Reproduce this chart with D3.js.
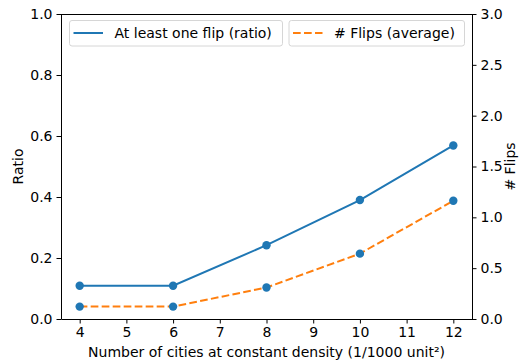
<!DOCTYPE html>
<html><head><meta charset="utf-8">
<script src="https://cdn.jsdelivr.net/npm/d3@7"></script>
<style>
body{margin:0;background:#fff;}
text{font-family:"DejaVu Sans",sans-serif;}
</style></head>
<body><svg id="c" width="519" height="363"></svg>
<script>
const cities = [4, 6, 8, 10, 12];
const ratioAtLeastOne = [0.109, 0.109, 0.242, 0.390, 0.569];
const flipsAverage = [0.122, 0.122, 0.310, 0.643, 1.163];
const xTicks = [4, 5, 6, 7, 8, 9, 10, 11, 12];
const leftTicks = [0.0, 0.2, 0.4, 0.6, 0.8, 1.0];
const rightTicks = [0.0, 0.5, 1.0, 1.5, 2.0, 2.5, 3.0];
const labels = {x: "Number of cities at constant density (1/1000 unit²)", yl: "Ratio", yr: "# Flips",
  s1: "At least one flip (ratio)", s2: "# Flips (average)"};

const blue = "#1f77b4", orange = "#ff7f0e";
const L = 61, R = 472, T = 14, B = 319;
const fs = 14;
const svg = d3.select("#c");
const x = d3.scaleLinear().domain([3.6, 12.4]).range([L, R]);
const yl = d3.scaleLinear().domain([0, 1]).range([B, T]);
const yr = d3.scaleLinear().domain([0, 3]).range([B, T]);

function styleAxis(g){
  g.selectAll("path").attr("stroke", "#000").attr("stroke-width", 1);
  g.selectAll("line").attr("stroke", "#000").attr("stroke-width", 1);
  g.selectAll("text").attr("font-size", fs).attr("fill", "#000").attr("font-family", "DejaVu Sans");
}
const gx = svg.append("g").attr("transform", `translate(0,${B})`)
  .call(d3.axisBottom(x).tickValues(xTicks).tickFormat(d3.format("d")).tickSize(4.5).tickPadding(4).tickSizeOuter(0));
styleAxis(gx);
const gl = svg.append("g").attr("transform", `translate(${L},0)`)
  .call(d3.axisLeft(yl).tickValues(leftTicks).tickFormat(d3.format(".1f")).tickSize(4.5).tickPadding(4).tickSizeOuter(0));
styleAxis(gl);
const gr = svg.append("g").attr("transform", `translate(${R},0)`)
  .call(d3.axisRight(yr).tickValues(rightTicks).tickFormat(d3.format(".1f")).tickSize(4.5).tickPadding(4).tickSizeOuter(0));
styleAxis(gr);
svg.append("line").attr("x1", L).attr("x2", R).attr("y1", T+0.5).attr("y2", T+0.5).attr("stroke", "#000");

const line1 = d3.line().x((d,i)=>x(cities[i])).y(d=>yl(d));
const line2 = d3.line().x((d,i)=>x(cities[i])).y(d=>yr(d));
svg.append("path").attr("d", line1(ratioAtLeastOne)).attr("fill","none").attr("stroke",blue).attr("stroke-width",2);
svg.selectAll(".m1").data(ratioAtLeastOne).enter().append("circle")
  .attr("cx",(d,i)=>x(cities[i])).attr("cy",d=>yl(d)).attr("r",4.2).attr("fill",blue);
svg.append("path").attr("d", line2(flipsAverage)).attr("fill","none").attr("stroke",orange).attr("stroke-width",2)
  .attr("stroke-dasharray","7.7,3.3");
svg.selectAll(".m2").data(flipsAverage).enter().append("circle")
  .attr("cx",(d,i)=>x(cities[i])).attr("cy",d=>yr(d)).attr("r",4.2).attr("fill",blue);

// labels
svg.append("text").attr("x",(L+R)/2).attr("y",357).attr("text-anchor","middle").attr("font-size",fs).text(labels.x);
svg.append("text").attr("transform",`translate(23,${(T+B)/2}) rotate(-90)`).attr("text-anchor","middle").attr("font-size",fs).text(labels.yl);
svg.append("text").attr("transform",`translate(515,${(T+B)/2}) rotate(-90)`).attr("text-anchor","middle").attr("font-size",fs).text(labels.yr);

// legends
function legend(x0, x1, label, color, dash){
  const g = svg.append("g");
  g.append("rect").attr("x",x0+0.5).attr("y",20.5).attr("width",x1-x0).attr("height",25.5).attr("rx",2.5)
    .attr("fill","#fff").attr("fill-opacity",0.8).attr("stroke","#d6d6d6").attr("stroke-width",1);
  g.append("line").attr("x1",x0+4.5).attr("x2",x0+34).attr("y1",33).attr("y2",33).attr("stroke",color).attr("stroke-width",2)
    .attr("stroke-dasharray",dash?"7.7,3.3":null);
  g.append("text").attr("x",x0+45.5).attr("y",38).attr("font-size",fs).text(label);
}
legend(69, 282, labels.s1, blue, false);
legend(288.5, 464, labels.s2, orange, true);
</script></body></html>
